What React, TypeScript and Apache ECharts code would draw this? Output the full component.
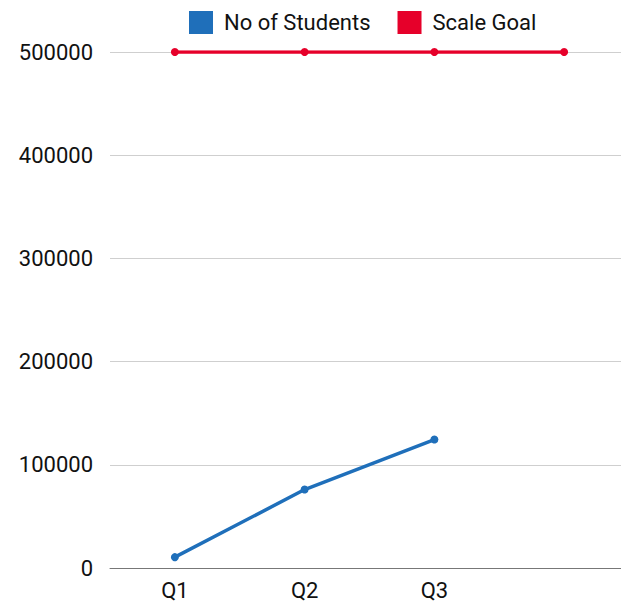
import React, { useEffect, useRef } from "react";
import * as echarts from "echarts";

const categories = ["Q1", "Q2", "Q3", ""];
const students = [10500, 76000, 124500, null];
const scaleGoal = [500000, 500000, 500000, 500000];
const yTicks = { min: 0, max: 500000, interval: 100000 };

const FONT = "Roboto";

export default function App() {
  const ref = useRef<HTMLDivElement>(null);
  useEffect(() => {
    if (!ref.current) return;
    const chart = echarts.init(ref.current, null, { renderer: "svg" });
    chart.setOption({
      animation: false,
      textStyle: { fontFamily: FONT },
      legend: {
        left: 189,
        top: 11,
        padding: 0,
        itemWidth: 24,
        itemHeight: 23,
        itemGap: 27,
        icon: "rect",
        textStyle: { fontSize: 22, color: "#111", fontFamily: FONT, padding: [0, 0, 0, 6] },
        data: ["No of Students", "Scale Goal"],
      },
      grid: { left: 110, right: 1, top: 52, bottom: 30, containLabel: false },
      xAxis: {
        type: "category",
        data: categories,
        boundaryGap: true,
        axisLine: { lineStyle: { color: "#777", width: 1 } },
        axisTick: { show: false },
        axisLabel: { fontSize: 22, color: "#111", margin: 11, fontFamily: FONT },
      },
      yAxis: {
        type: "value",
        min: yTicks.min,
        max: yTicks.max,
        interval: yTicks.interval,
        axisLine: { show: false },
        axisTick: { show: false },
        splitLine: { lineStyle: { color: "#cfcfcf", width: 1 } },
        axisLabel: {
          fontSize: 22,
          color: "#111",
          margin: 17,
          fontFamily: FONT,
          formatter: (v: number) => String(v),
        },
      },
      series: [
        {
          name: "No of Students",
          type: "line",
          data: students,
          color: "#1f6fba",
          symbol: "circle",
          symbolSize: 8,
          lineStyle: { width: 3.5, color: "#1f6fba" },
          itemStyle: { color: "#1f6fba" },
        },
        {
          name: "Scale Goal",
          type: "line",
          data: scaleGoal,
          color: "#e6002a",
          symbol: "circle",
          symbolSize: 8,
          lineStyle: { width: 3.5, color: "#e6002a" },
          itemStyle: { color: "#e6002a" },
        },
      ],
    });
    return () => chart.dispose();
  }, []);
  return (
    <div
      ref={ref}
      style={{ position: "fixed", left: 0, top: 0, width: 630, height: 601, background: "#fff" }}
    />
  );
}
